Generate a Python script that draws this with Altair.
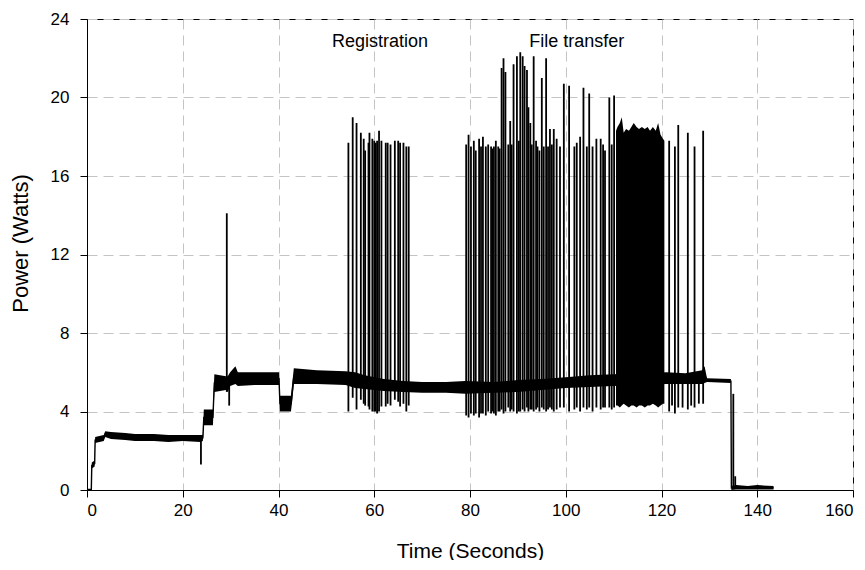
import altair as alt
import pandas as pd

# ---- steady power level band (time s, low W, high W) ----
base_t = [0.0, 0.9, 1.0, 1.6, 1.7, 3.5, 3.8, 5.0, 8.0, 10.0, 14.0, 17.0, 20.0, 23.7, 24.2,
          24.4, 26.3, 26.6, 29.0, 29.4, 29.9, 31.0, 31.5, 35.0, 40.1, 40.3, 42.6, 42.9, 43.2,
          48.0, 54.0, 56.0, 58.0, 62.0, 66.0, 70.0, 75.0, 79.0, 85.0, 90.0, 95.0, 100.0,
          105.0, 110.0, 121.0, 125.0, 128.5, 129.0, 129.5, 134.5, 134.6, 135.6, 138.0, 140.0, 143.4]
base_lo = [0.0, 0.0, 1.1, 1.2, 2.4, 2.5, 2.7, 2.6, 2.55, 2.5, 2.5, 2.45, 2.5, 2.45, 2.5,
           3.3, 3.3, 5.0, 5.1, 5.0, 5.3, 5.4, 5.3, 5.35, 5.35, 4.0, 4.0, 4.6, 5.4,
           5.4, 5.35, 5.2, 5.15, 5.05, 5.0, 4.95, 4.95, 4.9, 4.95, 5.0, 5.1, 5.2,
           5.25, 5.3, 5.4, 5.4, 5.4, 5.45, 5.5, 5.45, 0.0, 0.03, 0.03, 0.03, 0.03]
base_hi = [0.05, 0.05, 1.4, 1.5, 2.7, 2.8, 3.0, 2.95, 2.9, 2.85, 2.85, 2.8, 2.8, 2.8, 2.8,
           4.1, 4.1, 5.9, 5.8, 5.8, 6.0, 6.3, 6.0, 6.0, 6.0, 4.8, 4.8, 5.5, 6.2,
           6.1, 6.05, 6.0, 5.85, 5.65, 5.55, 5.5, 5.5, 5.55, 5.5, 5.6, 5.65, 5.75,
           5.85, 5.9, 6.0, 5.95, 6.1, 6.3, 5.7, 5.65, 0.2, 0.25, 0.2, 0.25, 0.2]

# ---- individual spikes (time s, low W, high W) ----
spike_t = [23.8, 29.2, 29.7, 135.0, 135.4,
           # registration
           54.6, 55.5, 56.3, 57.2, 57.8, 58.1, 58.8, 59.0, 59.6, 60.0, 60.3, 60.6, 61.0,
           61.5, 62.4, 62.8, 63.4, 64.3, 65.0, 65.4, 66.1, 66.7, 67.2,
           # file transfer
           79.2, 79.7, 80.2, 80.8, 81.2, 81.9, 82.3, 82.7, 83.3, 83.8, 84.4, 84.7, 85.0,
           85.4, 85.9, 86.2, 86.6, 87.0, 87.4, 88.0, 88.4, 88.7, 89.1, 89.8, 90.2, 90.5,
           91.0, 91.4, 91.9, 92.2, 92.6, 92.9, 93.3, 93.8, 94.1, 94.5, 95.0, 95.4, 95.9,
           96.3, 96.7, 97.1, 97.5, 98.1, 98.8, 99.6, 100.7, 101.8, 102.3, 103.0, 103.7,
           104.4, 104.9, 105.6, 106.4, 107.3, 107.8, 108.2, 109.1, 109.6, 110.1,
           121.6, 122.2, 122.8, 123.5, 124.4, 125.5, 126.2, 126.9, 127.8, 128.7]
spike_lo = [1.3, 5.0, 4.3, 0.1, 0.1,
            4.0, 4.7, 4.1, 4.6, 4.4, 4.3, 4.25, 4.1, 4.0, 4.0, 4.0, 3.9, 4.0,
            4.25, 4.25, 4.4, 4.3, 4.6, 4.5, 4.25, 4.4, 4.0, 4.3,
            3.8, 3.7, 3.9, 3.8, 3.9, 3.7, 3.9, 3.9, 3.8, 4.0, 3.9, 4.0, 3.9,
            3.8, 4.0, 4.0, 4.1, 3.9, 4.0, 4.2, 4.0, 4.1, 4.0, 3.9, 4.0, 4.0,
            4.1, 4.0, 4.2, 4.0, 4.1, 4.1, 4.0, 4.1, 4.2, 4.0, 4.2, 4.1, 4.0,
            4.1, 4.2, 4.1, 4.0, 4.1, 4.2, 4.2, 4.0, 4.1, 4.2, 4.0, 4.2,
            4.1, 4.2, 4.0, 4.2, 4.1, 4.2, 4.2, 4.2, 4.1, 4.2,
            4.0, 4.3, 3.9, 4.2, 4.2, 4.1, 4.3, 4.2, 4.4, 4.4]
spike_hi = [2.6, 14.1, 5.5, 4.9, 0.7,
            17.7, 19.0, 18.7, 18.2, 17.9, 17.3, 17.7, 18.2, 17.9, 17.8, 17.7, 17.8, 18.3,
            17.8, 17.7, 17.7, 17.6, 17.8, 17.8, 17.7, 17.7, 17.5, 17.5,
            17.6, 18.1, 17.5, 17.8, 17.3, 17.9, 17.5, 18.0, 17.5, 17.6, 17.5, 17.4, 17.5,
            17.8, 17.5, 17.4, 21.5, 22.0, 21.3, 17.6, 18.8, 17.6, 21.7, 22.1, 17.8, 22.3,
            22.1, 21.6, 21.4, 19.5, 18.7, 17.6, 22.1, 17.8, 17.5, 17.3, 21.0, 17.5, 22.0,
            17.5, 18.4, 17.6, 18.4, 17.9, 17.5, 20.7, 20.6, 17.5, 17.7, 18.0, 20.5,
            17.5, 20.2, 17.5, 17.9, 17.9, 17.6, 17.3, 20.0, 17.6, 20.1,
            17.8, 5.5, 17.5, 18.6, 5.5, 18.2, 5.5, 17.5, 5.5, 18.3]

# ---- dense burst during file transfer (time s, low W, high W) ----
burst_t = [110.5, 110.8, 111.3, 111.7, 112.1, 112.6, 113.2, 113.7, 114.2, 114.8, 115.3,
           115.9, 116.5, 117.1, 117.6, 118.2, 118.8, 119.3, 119.8, 120.3, 120.6]
burst_lo = [4.3, 4.3, 4.2, 4.3, 4.4, 4.3, 4.2, 4.3, 4.3, 4.2, 4.3,
            4.3, 4.2, 4.3, 4.3, 4.4, 4.3, 4.2, 4.3, 4.4, 4.4]
burst_hi = [18.3, 18.5, 18.7, 19.0, 18.2, 18.4, 18.3, 18.5, 18.7, 18.5, 18.4,
            18.5, 18.4, 18.5, 18.3, 18.5, 18.3, 18.7, 18.1, 17.9, 17.8]

# ---- annotations ----
note_text = ["Registration", "File transfer"]
note_t = [61.2, 102.3]
note_p = [22.85, 22.85]

x_ticks = [0, 20, 40, 60, 80, 100, 120, 140, 160]
y_ticks = [0, 4, 8, 12, 16, 20, 24]

base_df = pd.DataFrame({"t": base_t, "lo": base_lo, "hi": base_hi})
base_df["mid"] = (base_df["lo"] + base_df["hi"]) / 2
spike_df = pd.DataFrame({"t": spike_t, "lo": spike_lo, "hi": spike_hi})
burst_df = pd.DataFrame({"t": burst_t, "lo": burst_lo, "hi": burst_hi})
note_df = pd.DataFrame({"label": note_text, "t": note_t, "p": note_p})

FONT = "Liberation Sans"

xs = alt.Scale(domain=[0, 160], nice=False, zero=False)
ys = alt.Scale(domain=[0, 24], nice=False, zero=False)

x_axis = alt.Axis(values=x_ticks, title="Time (Seconds)", titleY=50, labelPadding=5)
y_axis = alt.Axis(values=y_ticks, title="Power (Watts)", titleX=-55, titleY=224,
                  labelPadding=11, titleFontSize=22)

band = alt.Chart(base_df).mark_area(color="black", opacity=1).encode(
    x=alt.X("t:Q", scale=xs, axis=x_axis),
    y=alt.Y("lo:Q", scale=ys, axis=y_axis),
    y2="hi:Q",
)
line = alt.Chart(base_df).mark_line(color="black", strokeWidth=1.4).encode(
    x=alt.X("t:Q", scale=xs),
    y=alt.Y("mid:Q", scale=ys),
)
spikes = alt.Chart(spike_df).mark_rule(color="black", strokeWidth=1.8).encode(
    x=alt.X("t:Q", scale=xs),
    y=alt.Y("lo:Q", scale=ys),
    y2="hi:Q",
)
burst = alt.Chart(burst_df).mark_area(color="black", opacity=1).encode(
    x=alt.X("t:Q", scale=xs),
    y=alt.Y("lo:Q", scale=ys),
    y2="hi:Q",
)
notes = alt.Chart(note_df).mark_text(font=FONT, fontSize=18, color="black").encode(
    x=alt.X("t:Q", scale=xs),
    y=alt.Y("p:Q", scale=ys),
    text="label:N",
)

chart = alt.layer(band, line, spikes, burst, notes).properties(
    width=766,
    height=471,
    autosize=alt.AutoSizeParams(type="none"),
    padding={"left": 79, "top": 11, "right": 4, "bottom": 70},
    background="white",
).configure_view(
    stroke="black", strokeWidth=1
).configure_axis(
    labelFont=FONT, labelFontSize=17, labelColor="black",
    titleFont=FONT, titleFontSize=21, titleFontWeight="normal", titleColor="black",
    domainColor="black", domainWidth=1, tickColor="black", tickSize=7, tickWidth=1,
    grid=True, gridColor="#c4c4c4", gridDash=[10, 6], gridWidth=1,
)

chart.save("out.html", embed_options={"renderer": "svg", "actions": False})
